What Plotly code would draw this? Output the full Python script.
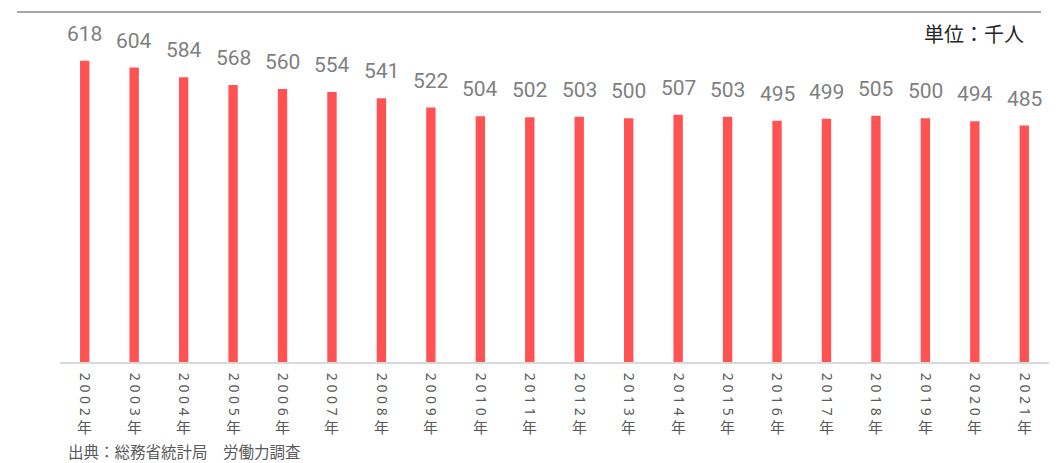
import plotly.graph_objects as go

years = [2002, 2003, 2004, 2005, 2006, 2007, 2008, 2009, 2010, 2011,
         2012, 2013, 2014, 2015, 2016, 2017, 2018, 2019, 2020, 2021]
values = [618, 604, 584, 568, 560, 554, 541, 522, 504, 502,
          503, 500, 507, 503, 495, 499, 505, 500, 494, 485]
categories = [f"{y}年" for y in years]
tick_digits = [" ".join(str(y)) for y in years]
unit_label = "単位：千人"
source_label = "出典：総務省統計局　労働力調査"

bar_color = "#FF5353"
OFF = 8  # default page body margin
W, H = 1058 - OFF, 463 - OFF
ml, mr, mt, mb = 60 - OFF, 9, 12 - OFF, 101
PW, PH = W - ml - mr, H - mt - mb
base_y = 362 - OFF


def px_x(x):
    return (x - OFF - ml) / PW


def px_y(y):
    return (base_y - (y - OFF)) / PH


fig = go.Figure()
fig.add_trace(go.Bar(
    x=categories, y=values, marker=dict(color=bar_color, line=dict(width=0)),
    width=0.19, hoverinfo="x+y",
))

annotations = []
for c, v in zip(categories, values):
    annotations.append(dict(
        x=c, y=v, xref="x", yref="y", text=str(v), showarrow=False,
        yanchor="bottom", yshift=13,
        font=dict(family="Roboto, Noto Sans", size=21, color="#7F7F7F"),
    ))
    annotations.append(dict(
        x=c, y=px_y(426), xref="x", yref="paper", text="年",
        showarrow=False, yanchor="middle",
        font=dict(family="Noto Sans CJK JP", size=15, color="#595959"),
    ))

annotations.append(dict(
    x=px_x(1026), y=px_y(33), xref="paper", yref="paper",
    text=unit_label, showarrow=False, xanchor="right", yanchor="middle",
    font=dict(family="Noto Sans CJK JP", size=20, color="#262626"),
))
annotations.append(dict(
    x=px_x(66), y=px_y(451), xref="paper", yref="paper",
    text=source_label, showarrow=False, xanchor="left", yanchor="middle",
    font=dict(family="Noto Sans CJK JP", size=15.5, color="#595959"),
))

fig.update_layout(
    width=W, height=H,
    margin=dict(l=ml, r=mr, t=mt, b=mb),
    plot_bgcolor="white", paper_bgcolor="white",
    showlegend=False,
    annotations=annotations,
    shapes=[dict(
        type="line", xref="paper", yref="paper",
        x0=px_x(17), x1=px_x(1041), y0=1, y1=1,
        line=dict(color="#A6A6A6", width=2),
    )],
    xaxis=dict(
        type="category", tickmode="array", tickvals=categories, ticktext=tick_digits,
        tickangle=90, showgrid=False, showline=True, linecolor="#D9D9D9", linewidth=2,
        ticks="", ticklabelstandoff=6,
        tickfont=dict(family="Noto Sans", size=14, color="#595959"),
        range=[-0.5, len(categories) - 0.5],
    ),
    yaxis=dict(range=[0, 718], visible=False, showgrid=False, zeroline=False),
)

fig.write_html("out.html")
